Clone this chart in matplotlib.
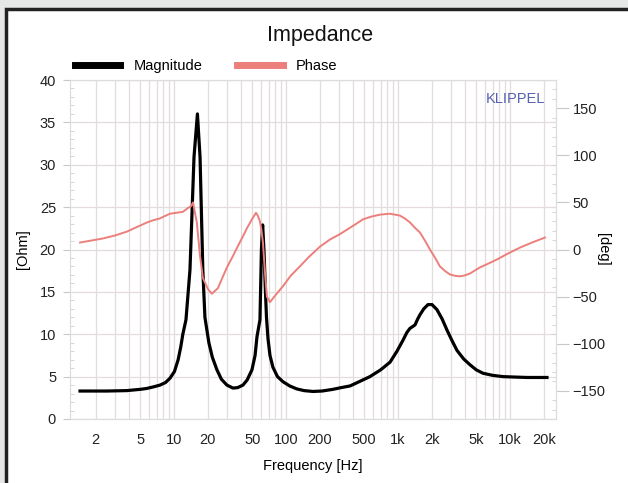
import matplotlib
matplotlib.use("Agg")
import matplotlib.pyplot as plt
from matplotlib.lines import Line2D
from matplotlib.patches import Rectangle
from matplotlib.ticker import FixedLocator, MultipleLocator, NullFormatter

plt.rcParams["font.family"] = ["Liberation Sans", "DejaVu Sans"]

# --- data ---
mag_f = [1.45, 2.5, 3.8, 5.0, 5.7, 6.6, 7.5, 8.4, 9.2, 10.1, 10.9, 11.5,
         12.0, 12.8, 13.9, 15.1, 16.2, 17.1, 18.1, 18.9, 20.5, 22, 24.2,
         26.5, 29.7, 33.6, 37, 41.3, 45, 49.7, 53, 55.1, 58.6, 60.4, 61.9,
         63.6, 65.6, 67, 69.1, 72, 76.5, 84, 94, 108, 125, 145, 174, 210,
         263, 310, 373, 450, 562, 700, 849, 980, 1109, 1200, 1280, 1350,
         1419, 1500, 1572, 1700, 1854, 2013, 2230, 2480, 2738, 3050, 3363,
         3850, 4395, 5000, 5740, 7000, 8660, 11000, 14190, 21400]
mag_ohm = [3.3, 3.3, 3.35, 3.5, 3.6, 3.8, 4.0, 4.3, 4.8, 5.6, 7.0, 8.5,
           10.0, 11.7, 17.6, 30.9, 36.0, 30.9, 17.6, 12.0, 9.0, 7.3, 5.8,
           4.7, 4.0, 3.65, 3.7, 4.0, 4.6, 5.8, 7.5, 9.7, 11.7, 20.0, 22.9,
           20.0, 15.0, 12.0, 9.5, 7.5, 6.1, 5.0, 4.4, 3.9, 3.55, 3.35, 3.25,
           3.3, 3.5, 3.7, 3.9, 4.4, 5.0, 5.8, 6.7, 8.0, 9.3, 10.2, 10.7,
           10.9, 11.1, 11.8, 12.3, 13.0, 13.5, 13.5, 12.9, 11.8, 10.5, 9.2,
           8.1, 7.1, 6.4, 5.8, 5.4, 5.15, 5.0, 4.95, 4.9, 4.9]

ph_f = [1.45, 2.32, 3.0, 3.8, 4.7, 5.74, 6.5, 7.5, 8.3, 9.21, 10.5, 12.0,
        13.3, 14.2, 14.8, 16.0, 17.1, 18.1, 20.1, 21.8, 24.7, 27.4, 30,
        33.6, 37, 41.3, 45, 49.7, 54.0, 56, 58.6, 60.5, 62.3, 65, 67.6,
        71.9, 80, 94, 110, 133, 160, 201, 247, 300, 350, 420, 487, 580,
        690, 849, 1042, 1150, 1280, 1420, 1572, 1750, 1931, 2150, 2371,
        2640, 2912, 3250, 3577, 3950, 4395, 4900, 5397, 6400, 7650, 9700,
        12270, 15800, 20540]
ph_deg = [7.4, 11.7, 15, 19, 24, 28.7, 31, 33, 35.5, 38, 39, 40,
          44, 46, 50, 28.7, -7, -30, -42, -47, -41, -28.5, -18,
          -7, 3, 14, 23, 32, 39, 36, 30, 20, 7.4, -25, -50,
          -56, -49, -39, -28, -18, -8, 3, 10.6, 16, 21, 27, 32, 35,
          37, 38, 36, 33, 28.7, 23, 18, 9, 0, -9, -18,
          -23, -26.5, -28, -28.5, -27.5, -25.5, -22, -19, -15, -10.6, -4,
          2, 7.5, 12.7]

xticks = [2, 5, 10, 20, 50, 100, 200, 500, 1000, 2000, 5000, 10000, 20000]
xticklabels = ["2", "5", "10", "20", "50", "100", "200", "500", "1k", "2k",
               "5k", "10k", "20k"]

GRID = "#e4dcdc"
RED = "#ec7f7b"

fig = plt.figure(figsize=(6.28, 4.83), dpi=100)
fig.patch.set_facecolor("#e6e8e8")
fig.patches.append(Rectangle((6 / 628, -0.05), 1.2, (483 - 9) / 483 + 0.05,
                             transform=fig.transFigure, facecolor="white",
                             edgecolor="#222222", lw=2.5, zorder=-1))

ax = fig.add_axes([70 / 628, 1 - 419 / 483, 486 / 628, 339 / 483])
ax.set_facecolor("white")
ax.set_xscale("log")
ax.set_xlim(1.18, 25760)
ax.set_ylim(0, 40)

ax.plot(mag_f, mag_ohm, color="black", lw=2.3, zorder=4,
        solid_joinstyle="round")

ax.xaxis.set_major_locator(FixedLocator(xticks))
ax.set_xticklabels(xticklabels)
ax.xaxis.set_minor_formatter(NullFormatter())
ax.tick_params(axis="x", which="both", length=0, pad=10, labelsize=10.5,
               colors="#222222")
ax.yaxis.set_major_locator(MultipleLocator(5))
ax.yaxis.set_minor_locator(MultipleLocator(1))
ax.tick_params(axis="y", which="major", direction="out", length=5,
               color="#c8c8c8", labelsize=10.5, labelcolor="#222222", pad=5)
ax.tick_params(axis="y", which="minor", direction="in", length=3,
               color="#d0d0d0")
ax.grid(True, axis="x", which="both", color=GRID, lw=0.9)
ax.grid(True, axis="y", which="major", color=GRID, lw=0.9)
for s in ax.spines.values():
    s.set_color("#dcdcdc")
ax.set_ylabel("[Ohm]", fontsize=10.5, labelpad=7)
ax.set_xlabel("Frequency [Hz]", fontsize=10.5, labelpad=9)

ax2 = ax.twinx()
ax2.set_ylim(-180, 180)
ax2.plot(ph_f, ph_deg, color=RED, lw=1.4, zorder=3)
ax2.yaxis.set_minor_locator(MultipleLocator(10))
ax2.set_yticks([-150, -100, -50, 0, 50, 100, 150])
ax2.tick_params(axis="y", which="major", direction="out", length=9,
                color="#c8c8c8", labelsize=10.5, labelcolor="#222222", pad=3)
ax2.tick_params(axis="y", which="minor", direction="in", length=3,
                color="#d0d0d0")
for s in ax2.spines.values():
    s.set_color("#dcdcdc")
ax2.set_ylabel("[deg]", fontsize=10.5, rotation=270, labelpad=3)

ax.text(0.978, 0.965, "KLIPPEL", transform=ax.transAxes, ha="right",
        va="top", color="#5561b3", fontsize=10.5)

fig.text(320 / 628, 1 - 35 / 483, "Impedance", ha="center", va="center",
         fontsize=15.5, color="#111111")

handles = [Line2D([], [], color="black", lw=5),
           Line2D([], [], color=RED, lw=5)]
fig.legend(handles, ["Magnitude", "Phase"], loc="center left",
           bbox_to_anchor=(62 / 628, 1 - 66 / 483), ncol=2, frameon=False,
           fontsize=10.5, handlelength=3.1, handletextpad=0.9,
           columnspacing=2.4)

fig.savefig("out.png", dpi=100, facecolor=fig.get_facecolor())
